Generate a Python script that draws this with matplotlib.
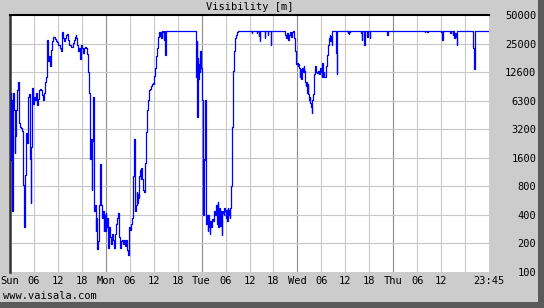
import matplotlib.pyplot as plt
from matplotlib.patches import Rectangle

# visibility record, hours counted from Sunday 00:00
hours = [
    # Sunday
    0.17, 0.25, 0.33, 0.5, 0.67, 0.83, 1.0, 1.17, 1.33, 1.5, 1.75, 2.0, 2.25, 2.5,
    2.75, 3.0, 3.25, 3.5, 3.67, 3.83, 4.0, 4.25, 4.5, 4.58, 4.75, 5.0, 5.25, 5.33,
    5.5, 5.75, 6.0, 6.25, 6.5, 6.75, 7.0, 7.25, 7.5, 7.75, 8.0, 8.25, 8.5, 8.75,
    9.0, 9.25, 9.33, 9.5, 9.75, 9.92, 10.17, 10.42, 10.67, 10.92, 11.17, 11.42,
    11.67, 11.92, 12.17, 12.42, 12.67, 12.92, 13.08, 13.33, 13.58, 13.83, 14.08,
    14.33, 14.58, 14.83, 15.08, 15.33, 15.67, 15.92, 16.17, 16.42, 16.58, 16.83,
    17.08, 17.33, 17.58, 17.83, 18.08, 18.33, 18.58, 18.83, 19.08, 19.33, 19.58,
    19.83, 20.08, 20.25, 20.42, 20.58, 20.75, 20.92, 21.08, 21.25, 21.42, 21.58,
    21.75, 22.0, 22.25, 22.42, 22.67, 22.92, 23.17, 23.33, 23.5, 23.67, 23.83,
    # Monday
    24.0, 24.17, 24.42, 24.67, 24.92, 25.17, 25.42, 25.67, 25.92, 26.17, 26.42,
    26.67, 26.92, 27.17, 27.42, 27.67, 27.92, 28.17, 28.42, 28.67, 28.92, 29.17,
    29.42, 29.67, 29.92, 30.17, 30.42, 30.67, 30.75, 30.83, 31.0, 31.17, 31.25,
    31.42, 31.58, 31.75, 31.92, 32.08, 32.25, 32.42, 32.58, 32.75, 32.92, 33.08,
    33.25, 33.42, 33.58, 33.75, 33.92, 34.08, 34.25, 34.42, 34.58, 34.75, 34.92,
    35.08, 35.25, 35.5, 35.75, 36.0, 36.17, 36.33, 36.5, 36.67, 36.83, 37.0,
    37.17, 37.33, 37.5, 37.67, 37.83, 38.0, 38.17, 38.33, 38.5, 38.67, 38.83,
    39.0, 39.17, 46.33, 46.5, 46.67, 46.83, 46.92, 47.0, 47.17, 47.33, 47.5,
    47.67, 47.83,
    # Tuesday
    48.0, 48.17, 48.33, 48.42, 48.5, 48.67, 48.83, 49.0, 49.17, 49.33, 49.5,
    49.67, 49.83, 50.0, 50.17, 50.33, 50.5, 50.67, 50.83, 51.0, 51.17, 51.33,
    51.5, 51.67, 51.83, 52.0, 52.17, 52.33, 52.5, 52.67, 52.83, 53.0, 53.17,
    53.33, 53.5, 53.67, 53.83, 54.0, 54.17, 54.33, 54.5, 54.67, 54.83, 55.0,
    55.17, 55.33, 55.5, 55.67, 55.75, 55.92, 56.08, 56.25, 56.42, 56.58, 56.75,
    56.92, 57.08, 60.5, 60.58, 60.67, 61.92, 62.0, 62.33, 62.42, 62.67, 62.75,
    63.83, 63.92, 64.67, 64.75, 65.33, 65.42, 68.83, 69.0, 69.25, 69.5, 69.75,
    70.0, 70.25, 70.5, 70.75, 71.0, 71.25, 71.42, 71.58, 71.75, 71.92,
    # Wednesday
    72.08, 72.25, 72.42, 72.58, 72.75, 72.92, 73.08, 73.25, 73.42, 73.58, 73.75,
    73.92, 74.08, 74.25, 74.42, 74.58, 74.75, 74.92, 75.08, 75.25, 75.42, 75.58,
    75.75, 75.92, 76.08, 76.25, 76.42, 76.58, 76.75, 76.92, 77.08, 77.25, 77.5,
    77.75, 77.92, 78.08, 78.25, 78.42, 78.58, 78.75, 78.92, 79.08, 79.25, 79.42,
    79.58, 79.75, 79.92, 80.08, 80.25, 80.42, 80.58, 80.75, 81.58, 81.75, 81.83,
    82.0, 84.58, 84.67, 84.75, 84.92, 85.0, 85.17, 85.25, 87.75, 87.83, 88.08,
    88.25, 88.67, 88.83, 89.42, 89.5, 89.67, 90.08, 90.25, 94.42,
    # Thursday
    94.5, 94.58, 103.83, 103.92, 104.0, 104.5, 104.58, 104.67, 107.83, 107.92,
    108.0, 108.17, 108.25, 108.42, 110.0, 110.25, 110.42, 110.92, 111.08, 111.25,
    111.42, 111.75, 111.92, 112.08, 116.0, 116.08, 116.25, 116.33, 116.42, 116.5,
    119.75,
]

vis = [
    # Sunday
    7800, 1500, 6500, 440, 1800, 7700, 5100, 1800, 2700, 5100, 8200, 10000, 3700, 3400,
    3300, 3100, 825, 295, 440, 1050, 2900, 2300, 4000, 7000, 7600, 1550, 530, 2100,
    8700, 5900, 7000, 6500, 7800, 5800, 6700, 8200, 8500, 8300, 7300, 6500, 7800, 10000,
    11300, 18900, 28000, 16700, 18900, 14900, 22100, 27000, 30300, 30300, 28800, 27300,
    26500, 24900, 24600, 23000, 21300, 23500, 34200, 29200, 27000, 29200, 31600,
    32000, 28000, 24900, 24600, 23500, 25900, 28000, 29700, 31600, 29200, 24900,
    21300, 23000, 17400, 24900, 23000, 20400, 23000, 23500, 23000, 19900, 12700,
    7800, 1550, 2500, 730, 2400, 7000, 1330, 440, 510, 272, 373,
    175, 210, 215, 510, 1380, 510, 373, 440, 272, 400, 272,
    # Monday
    420, 295, 373, 180, 295, 232, 198, 250, 215, 180, 250,
    318, 373, 420, 232, 180, 210, 215, 198, 215, 190, 215,
    169, 150, 295, 280, 318, 373, 400, 1030, 1030, 2500, 510,
    440, 510, 700, 530, 670, 600, 1030, 1200, 965, 1260, 965,
    760, 730, 700, 820, 1420, 3000, 3100, 5100, 6500, 7600, 8200,
    8500, 9200, 9600, 9800, 9600, 11700, 14300, 15500, 18900, 23000, 27000,
    30300, 34200, 31100, 34200, 29200, 32800, 35000, 34200, 28000, 35000, 19600,
    29200, 35000, 35000, 31600, 11300, 27000, 4300, 18100, 10900, 15500, 12700,
    21300, 14300,
    # Tuesday
    13200, 6500, 2100, 400, 1550, 1500, 6500, 1550, 318, 400, 272,
    400, 295, 250, 345, 295, 318, 360, 345, 373, 440, 400,
    440, 510, 318, 550, 295, 470, 400, 305, 440, 245, 420,
    440, 400, 470, 440, 373, 450, 345, 470, 400, 450, 373,
    470, 800, 825, 3400, 7600, 13200, 21300, 27000, 29200, 31600, 32800,
    34200, 35000, 35000, 32800, 35000, 32800, 35000, 31100, 35000, 27000, 35000,
    29200, 35000, 31600, 35000, 24900, 35000, 35000, 31600, 29200, 32800, 28000,
    31600, 34200, 30300, 34200, 35000, 29200, 21300, 16700, 15500, 16100,
    # Wednesday
    14900, 15500, 14300, 11300, 13800, 10900, 13200, 14300, 12700, 14900, 13200,
    10000, 9200, 10000, 7800, 9600, 7600, 6500, 7000, 6000, 5500, 4700,
    6500, 7600, 9600, 12200, 14900, 13200, 12700, 12500, 12700, 13200, 12200,
    14300, 12700, 11300, 16100, 11300, 12700, 11300, 11300, 13800, 14900, 19600,
    21300, 24900, 29200, 31600, 27000, 31100, 24900, 35000, 35000, 20400, 12200,
    35000, 35000, 32800, 35000, 32000, 35000, 33500, 35000, 35000, 32800, 28000,
    35000, 24900, 35000, 35000, 30300, 35000, 29200, 35000, 35000,
    # Thursday
    31600, 35000, 35000, 33500, 35000, 35000, 33500, 35000, 35000, 33500,
    35000, 35000, 28000, 35000, 35000, 32800, 35000, 31600, 35000, 29200,
    32800, 29700, 24900, 35000, 35000, 23000, 23000, 13800, 23000, 35000,
    35000,
]

x_ticks = [0, 6, 12, 18, 24, 30, 36, 42, 48, 54, 60, 66, 72, 78, 84, 90, 96, 102, 108, 120]
x_labels = ['Sun', '06', '12', '18', 'Mon', '06', '12', '18', 'Tue', '06', '12', '18',
            'Wed', '06', '12', '18', 'Thu', '06', '12', '23:45']
y_ticks = [100, 200, 400, 800, 1600, 3200, 6400, 12800, 25600, 51200]
y_labels = ['100', '200', '400', '800', '1600', '3200', '6300', '12600', '25000', '50000']

W, H = 544, 308
mono = 'DejaVu Sans Mono'
bg = '#cccccc'

fig = plt.figure(figsize=(W / 100, H / 100), dpi=100, facecolor=bg)
ax = fig.add_axes([10 / W, 1 - 272 / H, 479 / W, 257 / H])
ax.set_facecolor('white')

ax.set_yscale('log', base=2)
ax.set_xlim(0, 120)
ax.set_ylim(100, 51200)

# grid: light every 6 h, darker at midnight
for h in range(6, 120, 6):
    col = '#8c8c8c' if h % 24 == 0 else '#c8c8c8'
    ax.axvline(h, color=col, lw=0.8, zorder=1)
for v in y_ticks[1:-1]:
    ax.axhline(v, color='#c8c8c8', lw=0.8, zorder=1)

ax.plot(hours, vis, color='#0000ff', lw=0.9, drawstyle='steps-post', zorder=3)

ax.set_xticks(x_ticks)
ax.set_xticklabels(x_labels, fontfamily=mono, fontsize=7.5)
ax.set_yticks(y_ticks)
ax.set_yticklabels(y_labels, fontfamily=mono, fontsize=7.5)
ax.yaxis.set_minor_locator(plt.NullLocator())
ax.yaxis.tick_right()
ax.tick_params(axis='x', length=0, pad=3)
ax.tick_params(axis='y', length=0, pad=34)
plt.setp(ax.get_yticklabels(), ha='right')

for s in ['right', 'bottom']:
    ax.spines[s].set_visible(False)
ax.spines['top'].set_color('black')
ax.spines['top'].set_linewidth(1.5)
ax.spines['left'].set_color('#333333')
ax.spines['left'].set_linewidth(1.8)

fig.text(249.5 / W, 1 - 7.5 / H, 'Visibility [m]', ha='center', va='center',
         fontfamily=mono, fontsize=7.5)
fig.text(3 / W, 1 - 296 / H, 'www.vaisala.com', ha='left', va='center',
         fontfamily=mono, fontsize=7.5)

# drop shadow on the right and bottom edges
fig.patches.append(Rectangle((538 / W, 0), 6 / W, 1, transform=fig.transFigure,
                             facecolor='#5a5a5a', edgecolor='none'))
fig.patches.append(Rectangle((0, 0), 1, 6 / H, transform=fig.transFigure,
                             facecolor='#5a5a5a', edgecolor='none'))

fig.savefig('out.png', dpi=100, facecolor=bg)
